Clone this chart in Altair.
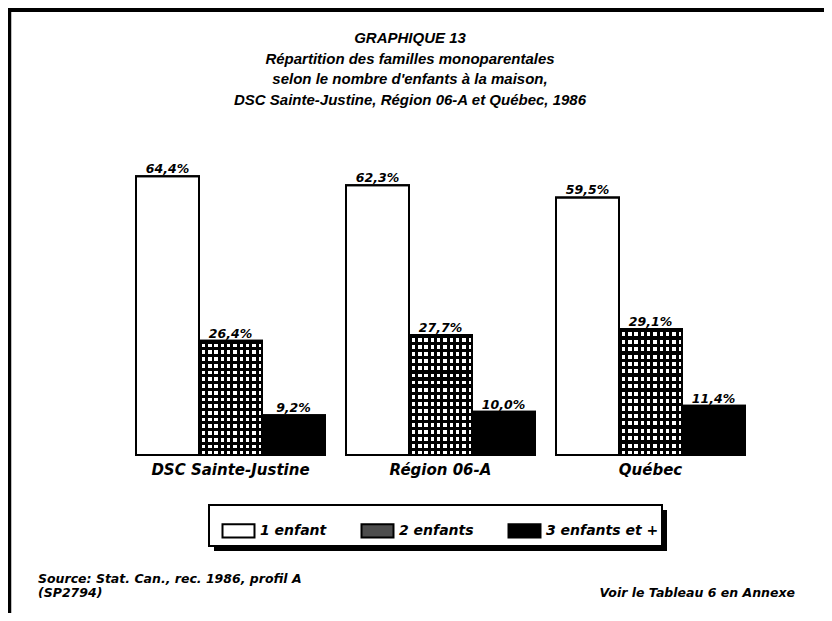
import altair as alt
import pandas as pd

# ---- data -------------------------------------------------------------
groups = ["DSC Sainte-Justine", "Région 06-A", "Québec"]
categories = ["1 enfant", "2 enfants", "3 enfants et +"]
one_child = [64.4, 62.3, 59.5]
two_children = [26.4, 27.7, 29.1]
three_plus = [9.2, 10.0, 11.4]

title_lines = [
    "GRAPHIQUE 13",
    "Répartition des familles monoparentales",
    "selon le nombre d'enfants à la maison,",
    "DSC Sainte-Justine, Région 06-A et Québec, 1986",
]
source_lines = ["Source: Stat. Can., rec. 1986, profil A", "(SP2794)"]
note_text = "Voir le Tableau 6 en Annexe"

rows = []
for i, g in enumerate(groups):
    for c, vals in zip(categories, [one_child, two_children, three_plus]):
        v = vals[i]
        rows.append({"group": g, "category": c, "value": v,
                     "label": f"{v:.1f}".replace(".", ",") + "%"})
df = pd.DataFrame(rows)
one = pd.DataFrame({"k": [0]})

FONT = "DejaVu Sans"
W, H = 609, 303


def stripes(n, frac, vertical):
    stops = []
    for i in range(n):
        a = i / n
        b = (i + frac) / n
        e = (i + 1) / n
        stops += [
            alt.GradientStop(color="black", offset=a),
            alt.GradientStop(color="black", offset=b),
            alt.GradientStop(color="rgba(0,0,0,0)", offset=b),
            alt.GradientStop(color="rgba(0,0,0,0)", offset=e),
        ]
    if vertical:
        return alt.Gradient(gradient="linear", stops=stops, x1=0, y1=0, x2=1, y2=0)
    return alt.Gradient(gradient="linear", stops=stops, x1=0, y1=0, x2=0, y2=1)


x_enc = alt.X("group:N", sort=groups,
              scale=alt.Scale(domain=groups, paddingInner=0.1, paddingOuter=0),
              axis=alt.Axis(title=None, domain=False, ticks=False, labelAngle=0,
                            labelFont=FONT, labelFontSize=15, labelFontStyle="italic",
                            labelFontWeight="bold", labelColor="black", labelPadding=7))
xo_enc = alt.XOffset("category:N", sort=categories,
                     scale=alt.Scale(domain=categories, paddingInner=0, paddingOuter=0))
y_enc = alt.Y("value:Q", scale=alt.Scale(domain=[0, 70], nice=False), axis=None)

base = alt.Chart(df).encode(x=x_enc, xOffset=xo_enc, y=y_enc)

bars = base.mark_bar(stroke="black", strokeWidth=2).encode(
    fill=alt.Fill("category:N",
                  scale=alt.Scale(domain=categories, range=["white", "#4d4d4d", "black"]),
                  legend=alt.Legend(orient="none", legendX=76, legendY=352,
                                    direction="horizontal", title=None,
                                    fillColor="rgba(0,0,0,0)", strokeColor="rgba(0,0,0,0)",
                                    padding=12,
                                    symbolType="M-1.2,-0.5H1.2V0.5H-1.2Z",
                                    symbolSize=711, symbolStrokeColor="black",
                                    symbolStrokeWidth=2, symbolOpacity=1,
                                    labelFont=FONT, labelFontSize=14,
                                    labelFontStyle="italic", labelFontWeight="bold",
                                    labelColor="black", labelOffset=7,
                                    columnPadding=30))
)

hatched = base.transform_filter(alt.datum.category == "2 enfants")
hatch_white = hatched.mark_bar(fill="white", strokeWidth=0)
hatch_v = hatched.mark_bar(fill=stripes(10, 0.45, True), strokeWidth=0)
hatch_h = hatched.mark_bar(fill=stripes(17, 0.45, False), strokeWidth=0)
outline = base.mark_bar(fill="rgba(0,0,0,0)", stroke="black", strokeWidth=2)

values = base.mark_text(font=FONT, fontSize=12.5, fontStyle="italic", fontWeight="bold",
                        baseline="alphabetic", dy=-3, color="black").encode(text="label:N")

# ---- decorations --------------------------------------------------------
deco = alt.Chart(one)
frame_left = deco.mark_rule(color="black", strokeWidth=3.5).encode(
    x=alt.value(-126.5), y=alt.value(-150), y2=alt.value(470))
frame_top = deco.mark_rule(color="black", strokeWidth=4).encode(
    x=alt.value(-130), x2=alt.value(700), y=alt.value(-142))
legend_shadow = deco.mark_rect(color="black").encode(
    x=alt.value(78), x2=alt.value(531), y=alt.value(358), y2=alt.value(399))
legend_box = deco.mark_rect(fill="white", stroke="black", strokeWidth=2).encode(
    x=alt.value(73), x2=alt.value(526), y=alt.value(353), y2=alt.value(394))

title = deco.mark_text(text=title_lines, font="Liberation Sans", fontSize=15,
                       fontStyle="italic", fontWeight="bold", lineHeight=20.5,
                       align="center", baseline="alphabetic", color="black").encode(
    x=alt.value(274), y=alt.value(-109))
source = deco.mark_text(text=source_lines, font=FONT, fontSize=12.5, fontStyle="italic",
                        fontWeight="bold", lineHeight=14, align="left",
                        baseline="alphabetic", color="black").encode(
    x=alt.value(-98), y=alt.value(431))
note = deco.mark_text(text=note_text, font=FONT, fontSize=12.5, fontStyle="italic",
                      fontWeight="bold", align="right", baseline="alphabetic",
                      color="black").encode(x=alt.value(659), y=alt.value(445))

chart = alt.layer(
    frame_left, frame_top, legend_shadow, legend_box,
    bars, hatch_white, hatch_v, hatch_h, outline, values,
    title, source, note,
).properties(
    width=W, height=H,
    autosize=alt.AutoSizeParams(type="none"),
    padding={"left": 128, "top": 144, "right": 79, "bottom": 158},
    background="white",
).configure_view(stroke=None)

chart.save("out.html", embed_options={"renderer": "svg", "actions": False})
